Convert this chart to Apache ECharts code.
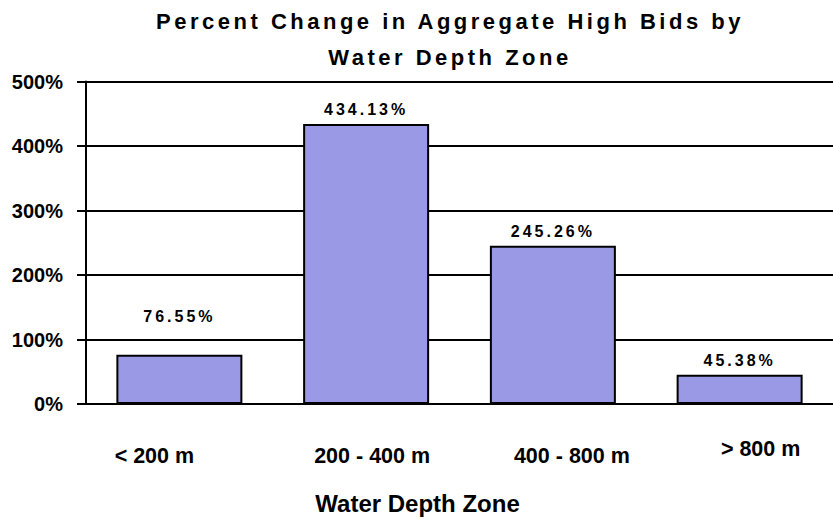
<!DOCTYPE html>
<html>
<head>
<meta charset="utf-8">
<script src="https://cdn.jsdelivr.net/npm/echarts@6/dist/echarts.min.js"></script>
<style>
  html, body { margin: 0; padding: 0; background: #fff; }
  #chart { width: 833px; height: 520px; }
  /* letter-spaced title and value labels, as in the original */
  #chart text[style*="22px"] { letter-spacing: 3.5px; }
  #chart text[style*="16px"] { letter-spacing: 3px; }
</style>
</head>
<body>
<div id="chart"></div>
<script>
const categories = ["< 200 m", "200 - 400 m", "400 - 800 m", "> 800 m"];
const percentChange = [76.55, 434.13, 245.26, 45.38];
const yTicks = [0, 100, 200, 300, 400, 500];

const FONT = "'Liberation Sans', Arial, sans-serif";
const chart = echarts.init(document.getElementById("chart"), null, { renderer: "svg" });

// per-category nudges so the labels sit where the original put them
const catRich = {
  c0: { padding: [7, 50, 0, 0] },
  c1: { padding: [7, 0, 0, 12] },
  c2: { padding: [7, 0, 0, 38] },
  c3: { padding: [0, 0, 0, 42] },
};
Object.values(catRich).forEach((s) => {
  Object.assign(s, { fontFamily: FONT, fontWeight: "bold", fontSize: 21.5, color: "#000" });
});

chart.setOption({
  animation: false,
  backgroundColor: "#fff",
  title: {
    text: "Percent Change in Aggregate High Bids by\nWater Depth Zone",
    left: 450,
    top: 0,
    textAlign: "center",
    padding: [3, 0, 0, 0],
    textStyle: {
      fontFamily: FONT,
      fontWeight: "bold",
      fontSize: 22,
      lineHeight: 36,
      color: "#000",
    },
  },
  grid: { left: 86, top: 81.5, width: 754, height: 325.8, containLabel: false },
  xAxis: {
    type: "category",
    data: categories,
    name: "Water Depth Zone",
    nameLocation: "middle",
    nameGap: 87,
    nameTextStyle: {
      fontFamily: FONT,
      fontWeight: "bold",
      fontSize: 24,
      color: "#000",
      padding: [0, 84, 0, 0],
    },
    axisLine: { lineStyle: { color: "#000", width: 2 } },
    axisTick: { show: false },
    axisLabel: {
      interval: 0,
      margin: 34,
      formatter: (value, index) => `{c${index}|${value}}`,
      rich: catRich,
    },
  },
  yAxis: {
    type: "value",
    min: yTicks[0],
    max: yTicks[yTicks.length - 1],
    interval: 100,
    axisLine: { show: true, lineStyle: { color: "#000", width: 2 } },
    axisTick: { show: true, length: 9, lineStyle: { color: "#000", width: 2 } },
    splitLine: { lineStyle: { color: "#000", width: 2 } },
    axisLabel: {
      margin: 23,
      formatter: (v) => v + "%",
      fontFamily: FONT,
      fontWeight: "bold",
      fontSize: 20,
      color: "#000",
    },
  },
  series: [
    {
      type: "bar",
      barWidth: 126,
      data: percentChange.map((v, i) => (i === 0 ? { value: v, label: { distance: 30 } } : v)),
      itemStyle: { color: "#9999e6", borderColor: "#000", borderWidth: 2 },
      label: {
        show: true,
        position: "top",
        distance: 6,
        formatter: (p) => p.value.toFixed(2) + "%",
        fontFamily: FONT,
        fontWeight: "bold",
        fontSize: 16,
        color: "#000",
      },
    },
  ],
});
</script>
</body>
</html>
